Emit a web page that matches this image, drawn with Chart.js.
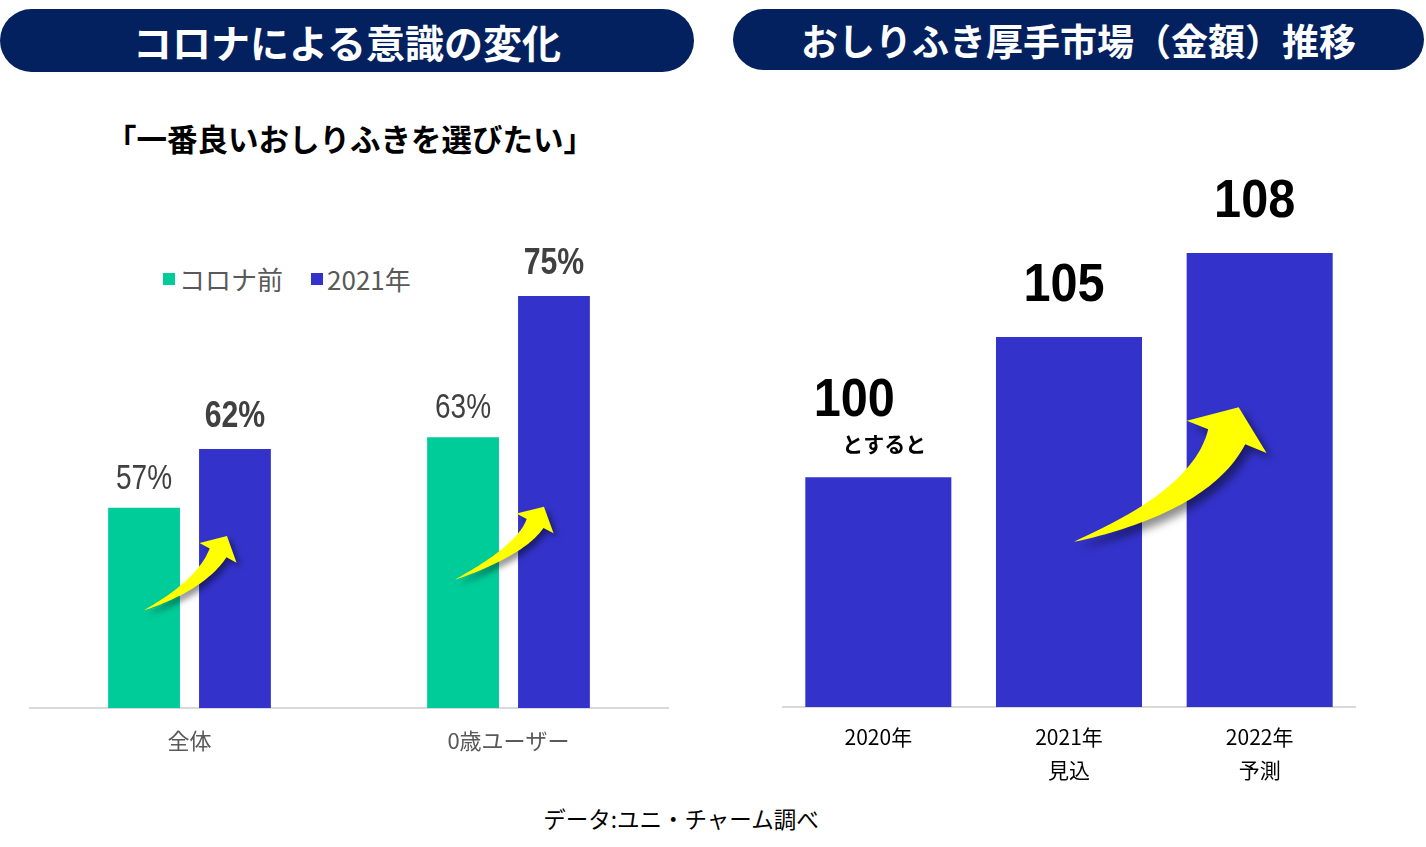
<!DOCTYPE html>
<html><head><meta charset="utf-8">
<script src="https://cdn.jsdelivr.net/npm/chart.js@4.4.1/dist/chart.umd.min.js"></script>
<style>
html,body{margin:0;padding:0;background:#fff;}
body{width:1426px;height:847px;position:relative;overflow:hidden;font-family:"Noto Sans CJK JP","Noto Sans",sans-serif;}
.pill{position:absolute;background:#03215f;color:#fff;font-weight:700;display:flex;align-items:center;justify-content:center;border-radius:32px;}
#p1{left:0;top:9px;width:694px;height:63px;font-size:39px;}
#p2{left:733px;top:9px;width:691px;height:61px;font-size:37px;}
#sub{position:absolute;left:106px;top:116px;font-size:30.5px;font-weight:700;color:#000;white-space:nowrap;}
#legend{position:absolute;left:163px;top:260px;font-size:26px;color:#595959;white-space:nowrap;display:flex;align-items:center;}
#legend .sw{display:inline-block;width:12px;height:12px;margin-right:4px;}
#legend .it{display:flex;align-items:center;margin-right:28px;}
#foot{position:absolute;left:0;width:1362px;text-align:center;top:802px;font-size:22.5px;color:#000;}
#c1{position:absolute;left:0;top:180px;}
#c2{position:absolute;left:713px;top:150px;}
</style></head>
<body>
<div class="pill" id="p1">コロナによる意識の変化</div>
<div class="pill" id="p2">おしりふき厚手市場（金額）推移</div>
<div id="sub">「一番良いおしりふきを選びたい」</div>
<div id="legend"></div>
<canvas id="c1" width="700" height="620" style="width:700px;height:620px"></canvas>
<canvas id="c2" width="713" height="650" style="width:713px;height:650px"></canvas>
<div id="foot">データ:ユニ・チャーム調べ</div>
<script>
// ---- data ----
const leftCategories = ["全体", "0歳ユーザー"];
const leftSeriesNames = ["コロナ前", "2021年"];
const beforeCorona = [57, 63];
const in2021 = [62, 75];
const rightCategories = [["2020年"], ["2021年", "見込"], ["2022年", "予測"]];
const marketIndex = [100, 105, 108];
const marketNotes = ["とすると", "", ""];

const GREEN = "#00CC99", BLUE = "#3333CC";
const SANS = '"Liberation Sans","Arial",sans-serif';
const JP = '"Noto Sans CJK JP","Noto Sans",sans-serif';

// HTML legend built from series names
const lg = document.getElementById('legend');
[[leftSeriesNames[0], GREEN], [leftSeriesNames[1], BLUE]].forEach(([n, c]) => {
  const it = document.createElement('span'); it.className = 'it';
  const sw = document.createElement('span'); sw.className = 'sw'; sw.style.background = c;
  it.appendChild(sw); it.appendChild(document.createTextNode(n)); lg.appendChild(it);
});

function drawArrow(ctx, T, P, o) {
  const a = o.headAngle * Math.PI / 180, u = {x: Math.cos(a), y: -Math.sin(a)};
  const B = {x: P.x - o.headLen * u.x, y: P.y - o.headLen * u.y};
  const ta = o.tailAngle * Math.PI / 180, v = {x: Math.cos(ta), y: -Math.sin(ta)};
  const dx = B.x - T.x, dy = B.y - T.y;
  const det = u.x * v.y - v.x * u.y;
  const m = (u.x * dy - dx * u.y) / det;
  const C = {x: T.x + m * v.x, y: T.y + m * v.y};
  const N = 40, A = [], Bs = [];
  let nEnd = null;
  for (let i = 0; i <= N; i++) {
    const t = i / N;
    const px = (1 - t) * (1 - t) * T.x + 2 * (1 - t) * t * C.x + t * t * B.x;
    const py = (1 - t) * (1 - t) * T.y + 2 * (1 - t) * t * C.y + t * t * B.y;
    const ddx = 2 * (1 - t) * (C.x - T.x) + 2 * t * (B.x - C.x);
    const ddy = 2 * (1 - t) * (C.y - T.y) + 2 * t * (B.y - C.y);
    const L = Math.hypot(ddx, ddy) || 1;
    const n = {x: -ddy / L, y: ddx / L};
    const w = o.bodyW / 2 * Math.pow(t, 0.85);
    A.push({x: px + n.x * w, y: py + n.y * w});
    Bs.push({x: px - n.x * w, y: py - n.y * w});
    nEnd = n;
  }
  ctx.save();
  ctx.shadowColor = 'rgba(0,0,0,0.45)';
  ctx.shadowBlur = o.blur;
  ctx.shadowOffsetX = o.sh; ctx.shadowOffsetY = o.sh;
  ctx.fillStyle = '#FFFF00';
  ctx.beginPath();
  ctx.moveTo(A[0].x, A[0].y);
  for (const p of A) ctx.lineTo(p.x, p.y);
  ctx.lineTo(B.x + nEnd.x * o.headW / 2, B.y + nEnd.y * o.headW / 2);
  ctx.lineTo(P.x, P.y);
  ctx.lineTo(B.x - nEnd.x * o.headW / 2, B.y - nEnd.y * o.headW / 2);
  for (let i = Bs.length - 1; i >= 0; i--) ctx.lineTo(Bs[i].x, Bs[i].y);
  ctx.closePath();
  ctx.fill();
  ctx.restore();
}

function narrowText(ctx, text, x, y, sx) {
  ctx.save();
  ctx.translate(x, y);
  ctx.scale(sx, 1);
  ctx.fillText(text, 0, 0);
  ctx.restore();
}

const barLabels = {
  id: 'barLabels',
  afterDatasetsDraw(chart, args, opts) {
    const ctx = chart.ctx;
    ctx.save();
    ctx.textAlign = 'center';
    ctx.textBaseline = 'alphabetic';
    chart.data.datasets.forEach((ds, di) => {
      const st = opts.styles[di];
      chart.getDatasetMeta(di).data.forEach((bar, i) => {
        const note = opts.notes ? opts.notes[i] : '';
        ctx.fillStyle = st.color;
        if (note) {
          ctx.font = opts.noteFont;
          ctx.fillText(note, bar.x + opts.noteDx, bar.y - opts.noteGap);
          ctx.font = st.font;
          narrowText(ctx, opts.format(ds.data[i]), bar.x + opts.noteNumDx, bar.y - opts.noteNumGap, st.sx);
        } else {
          ctx.font = st.font;
          narrowText(ctx, opts.format(ds.data[i]), bar.x + (st.dx || 0), bar.y - st.gap, st.sx);
        }
      });
    });
    ctx.restore();
  }
};

const arrows = {
  id: 'arrows',
  afterDatasetsDraw(chart, args, opts) {
    const ys = chart.scales.y;
    opts.items.forEach(it => {
      const from = chart.getDatasetMeta(it.fromSet).data[it.fromIdx];
      const to = chart.getDatasetMeta(it.toSet).data[it.toIdx];
      const T = {x: from.x + it.fromDx, y: ys.getPixelForValue(it.fromVal)};
      const P = {x: to.x + it.toDx, y: ys.getPixelForValue(it.toVal)};
      drawArrow(chart.ctx, T, P, opts.shape);
    });
  }
};

Chart.defaults.animation = false;

new Chart(document.getElementById('c1'), {
  type: 'bar',
  data: {
    labels: leftCategories,
    datasets: [
      {label: leftSeriesNames[0], data: beforeCorona, backgroundColor: GREEN, categoryPercentage: 0.57, barPercentage: 0.79},
      {label: leftSeriesNames[1], data: in2021, backgroundColor: BLUE, categoryPercentage: 0.57, barPercentage: 0.79}
    ]
  },
  options: {
    responsive: false,
    layout: {padding: {left: 30, right: 32, top: 57, bottom: 32}},
    plugins: {
      legend: {display: false}, tooltip: {enabled: false},
      barLabels: {
        format: v => v + '%',
        styles: [
          {color: '#404040', font: '35px ' + SANS, gap: 19, sx: 0.8},
          {color: '#404040', font: 'bold 36px ' + SANS, gap: 22, sx: 0.84}
        ]
      },
      arrows: {
        shape: {headAngle: 62, headLen: 19, headW: 42, bodyW: 19, tailAngle: 24, blur: 6, sh: 4},
        items: [
          {fromSet: 0, fromIdx: 0, fromDx: 0, fromVal: 48.3, toSet: 1, toIdx: 0, toDx: -8, toVal: 54.6},
          {fromSet: 0, fromIdx: 1, fromDx: -8, fromVal: 50.9, toSet: 1, toIdx: 1, toDx: -10, toVal: 57.1}
        ]
      }
    },
    scales: {
      x: {
        grid: {display: false, drawTicks: false},
        border: {display: true, color: '#d9d9d9', width: 2},
        ticks: {color: '#595959', font: {family: JP, size: 22}, padding: 19},
        afterFit(s) { s.height = 60; }
      },
      y: {display: false, min: 40, max: 80}
    }
  },
  plugins: [barLabels, arrows]
});

new Chart(document.getElementById('c2'), {
  type: 'bar',
  data: {
    labels: rightCategories,
    datasets: [
      {label: 'index', data: marketIndex, backgroundColor: BLUE, categoryPercentage: 0.9, barPercentage: 0.851}
    ]
  },
  options: {
    responsive: false,
    layout: {padding: {left: 70, right: 71, top: 47, bottom: 13}},
    plugins: {
      legend: {display: false}, tooltip: {enabled: false},
      barLabels: {
        format: v => String(v),
        notes: marketNotes,
        noteFont: 'bold 21px ' + JP,
        noteDx: 6, noteGap: 25, noteNumDx: -24, noteNumGap: 61,
        styles: [{color: '#000', font: 'bold 54px ' + SANS, gap: 36, dx: -5, sx: 0.9}]
      },
      arrows: {
        shape: {headAngle: 68, headLen: 32, headW: 86, bodyW: 40, tailAngle: 18, blur: 8, sh: 6},
        items: [
          {fromSet: 0, fromIdx: 1, fromDx: 5, fromVal: 97.7, toSet: 0, toIdx: 2, toDx: -21, toVal: 102.5}
        ]
      }
    },
    scales: {
      x: {
        grid: {display: false, drawTicks: false},
        border: {display: true, color: '#d9d9d9', width: 2},
        ticks: {color: '#000', font: {family: JP, size: 21, lineHeight: 1.571}, padding: 14},
        afterFit(s) { s.height = 80; }
      },
      y: {display: false, min: 91.8, max: 110}
    }
  },
  plugins: [barLabels, arrows]
});
</script>
</body></html>
